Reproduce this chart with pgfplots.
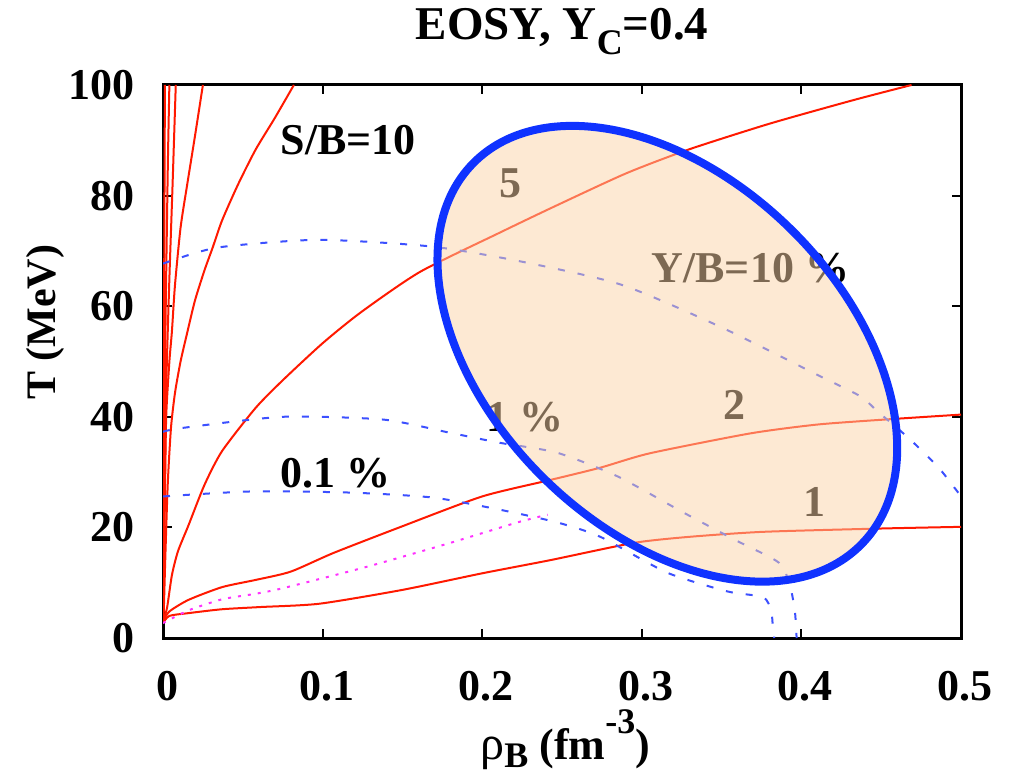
\documentclass[border=0pt]{standalone}
\usepackage{fontspec}
\setmainfont{Liberation Serif}
\usepackage{pgfplots}
\pgfplotsset{compat=1.18}
\definecolor{cred}{RGB}{255,25,0}
\definecolor{cblue}{RGB}{60,80,255}
\definecolor{cmag}{RGB}{255,50,255}
\definecolor{ellblue}{RGB}{15,50,255}
\definecolor{ellfill}{RGB}{251,211,167}
\newcommand{\bigf}{\fontsize{22}{26}\selectfont\bfseries}
\begin{document}
\begin{tikzpicture}
\begin{axis}[
  scale only axis, width=399pt, height=276.5pt,
  xmin=0, xmax=0.5, ymin=0, ymax=100,
  xtick={0,0.1,0.2,0.3,0.4,0.5},
  ytick={0,20,40,60,80,100},
  tick align=inside, major tick length=4.5pt,
  axis line style={line width=1.5pt},
  every tick/.style={black, line width=1pt},
  /pgf/number format/assume math mode=true,
  ticklabel style={font=\bigf},
  xticklabel style={anchor=base, yshift=-31pt, xshift=2pt},
  yticklabel style={anchor=east, xshift=-10.5pt},
  title={EOSY, Y\raisebox{-7.5pt}{\fontsize{18}{18}\selectfont C}=0.4},
  every axis title shift=0pt,
  title style={font=\fontsize{23.5}{26}\selectfont\bfseries, at={(axis description cs:0.5,1)}, anchor=base, yshift=22.5pt},
  xlabel={{\mdseries\fontsize{24}{26}\selectfont ρ}\raisebox{-4pt}{\fontsize{18}{18}\selectfont B} (fm\raisebox{13pt}{\fontsize{18}{18}\selectfont -3})},
  xlabel style={font=\bigf, at={(axis description cs:0.504,0)}, anchor=base, yshift=-60.5pt},
  ylabel={T (MeV)},
  ylabel style={font=\fontsize{21}{24}\selectfont\bfseries, at={(axis description cs:-0.1353,0.571)}, anchor=base},
  redline/.style={cred, line width=1pt, smooth, tension=0.4},
  blueline/.style={cblue, line width=1pt, dash pattern=on 3.5pt off 6.5pt, smooth, tension=0.4},
]
\coordinate (SW) at (rel axis cs:0,0);
% S/B = 1
\addplot[redline] coordinates {(0,2.7)(0.004,4)(0.016,4.5)(0.037,5.2)(0.061,5.6)(0.098,6.2)(0.15,8.7)(0.2,11.7)(0.243,14.1)(0.295,17.2)(0.33,18.3)(0.376,19.2)(0.45,19.8)(0.5,20.1)};
% S/B = 2
\addplot[redline] coordinates {(0,3)(0.004,4.8)(0.016,6.9)(0.037,9.2)(0.058,10.5)(0.08,12)(0.107,15.4)(0.149,20.1)(0.2,25.6)(0.243,28.6)(0.274,30.8)(0.305,33.4)(0.368,37)(0.41,38.6)(0.452,39.5)(0.5,40.4)};
% S/B = 5
\addplot[redline] coordinates {(0,3)(0.0025,5.4)(0.0056,11.4)(0.0094,15.7)(0.016,20.4)(0.026,27.7)(0.037,33.8)(0.058,41.6)(0.075,46.6)(0.1,53.3)(0.124,58.9)(0.161,66.2)(0.211,73.3)(0.245,78)(0.29,84)(0.329,88.3)(0.38,93)(0.433,97.3)(0.469,100)};
% S/B = 10
\addplot[redline] coordinates {(0,2.7)(0.0005,5)(0.0015,15)(0.003,28)(0.005,38)(0.0075,44.3)(0.011,50)(0.015,55)(0.02,61)(0.026,66.5)(0.031,70.5)(0.037,75.5)(0.047,82)(0.058,88.3)(0.07,94)(0.082,100)};
% S/B = 20
\addplot[redline] coordinates {(0,2.7)(0.0005,10)(0.0012,25)(0.002,40)(0.004,50)(0.0056,55.5)(0.0075,63.8)(0.011,74.2)(0.015,81.7)(0.02,90.7)(0.025,100)};
% S/B = 50
\addplot[redline] coordinates {(0,2.7)(0.0008,20)(0.002,45)(0.004,65)(0.006,82)(0.008,100)};
% S/B = 100
\addplot[redline] coordinates {(0,2.7)(0.0005,25)(0.0015,55)(0.003,85)(0.004,100)};
% S/B = 200
\addplot[redline] coordinates {(0,2.7)(0.0003,30)(0.0008,70)(0.0012,100)};
% magenta dotted
\addplot[cmag, line width=1pt, dash pattern=on 1.5pt off 3.5pt, smooth, tension=0.4] coordinates {(0,2.7)(0.016,5)(0.037,7)(0.058,8)(0.075,9)(0.128,12.9)(0.18,17.2)(0.222,20.9)(0.241,22.3)};
% Y/B = 0.1 %
\addplot[blueline] coordinates {(0,25.6)(0.055,26.5)(0.117,26.3)(0.169,25.4)(0.211,23.2)(0.247,20.9)(0.274,18.3)(0.316,11.8)(0.354,8.4)(0.376,7.4)(0.381,5)(0.382,2.5)(0.383,0)};
% Y/B = 1 %
\addplot[blueline] coordinates {(0,37.3)(0.0125,38)(0.075,40)(0.138,39.5)(0.18,37.1)(0.211,35.3)(0.247,33.5)(0.285,29.2)(0.326,22.7)(0.358,17.8)(0.386,13.6)(0.393,9.3)(0.396,4.6)(0.397,0)};
% Y/B = 10 %
\addplot[blueline] coordinates {(0,67.7)(0.034,70.6)(0.097,72)(0.168,70.8)(0.224,68.1)(0.287,63.9)(0.349,56.3)(0.412,47.3)(0.437,43.7)(0.448,40.9)(0.467,36.2)(0.486,30.8)(0.5,25.6)};
% labels
\node[font=\bigf] at (axis cs:0.116,90.1) {S/B=10};
\node[font=\bigf] at (axis cs:0.218,82.3) {5};
\node[font=\bigf] at (axis cs:0.368,66.9) {Y/B=10 \%};
\node[font=\bigf] at (axis cs:0.358,42.1) {2};
\node[font=\bigf] at (axis cs:0.408,24.6) {1};
\node[font=\bigf] at (axis cs:0.227,40) {1 \%};
\node[font=\bigf] at (axis cs:0.108,29.8) {0.1 \%};
% ellipse
\draw[draw=ellblue, line width=4pt, fill=ellfill, fill opacity=0.5,
  rotate around={-44.4:(axis cs:0.316,51.4)}]
  (axis cs:0.316,51.4) ellipse [x radius=136pt, y radius=87.7pt];
\end{axis}
\pgfresetboundingbox
\path[use as bounding box] ([shift={(-81.5pt,-69pt)}]SW) rectangle ([shift={(426pt,319pt)}]SW);
\end{tikzpicture}
\end{document}
